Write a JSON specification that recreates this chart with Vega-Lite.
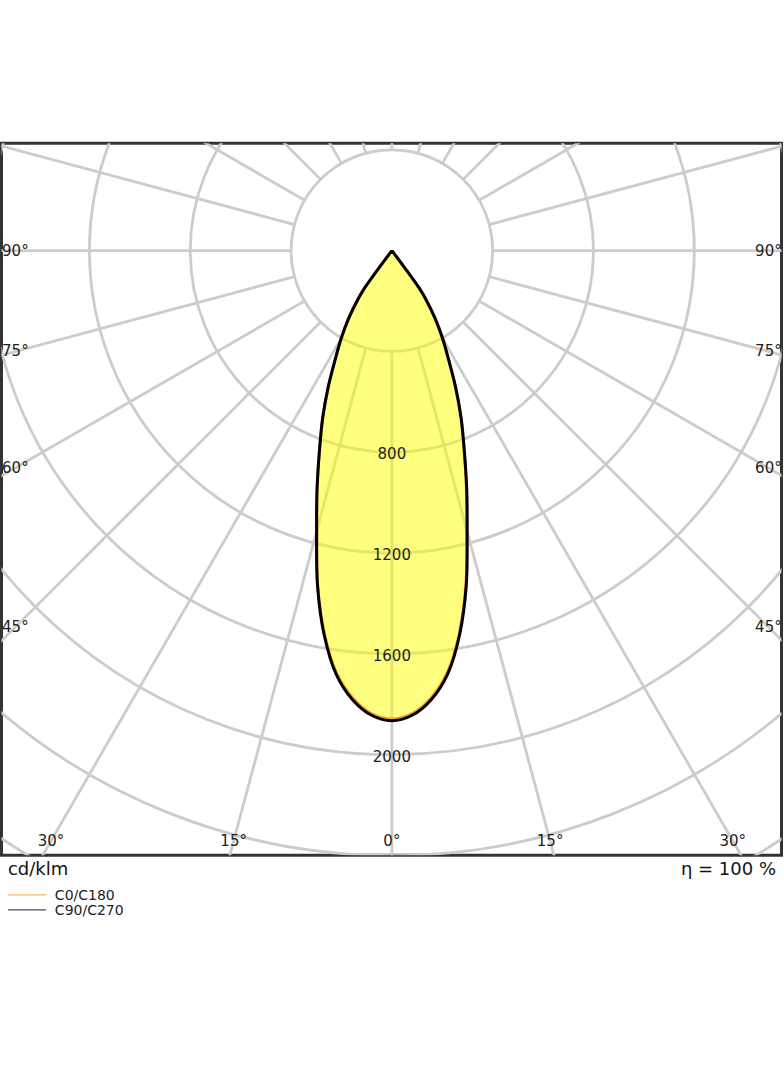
{
  "$schema": "https://vega.github.io/schema/vega-lite/v6.json",
  "width": 780,
  "height": 712,
  "autosize": {"type": "none"},
  "padding": {"left": 1.5, "top": 143.3, "right": 2.5, "bottom": 210.7},
  "background": "white",
  "config": {"view": {"stroke": "#333333", "strokeWidth": 3}, "font": "DejaVu Sans"},
  "datasets": {
    "circles": [{"r": 400}, {"r": 800}, {"r": 1200}, {"r": 1600}, {"r": 2000}, {"r": 2400}, {"r": 2800}],
    "rays": [{"angle": 0}, {"angle": 15}, {"angle": 30}, {"angle": 45}, {"angle": 60}, {"angle": 75}, {"angle": 90}, {"angle": 105}, {"angle": 120}, {"angle": 135}, {"angle": 150}, {"angle": 165}, {"angle": 180}, {"angle": 195}, {"angle": 210}, {"angle": 225}, {"angle": 240}, {"angle": 255}, {"angle": 270}, {"angle": 285}, {"angle": 300}, {"angle": 315}, {"angle": 330}, {"angle": 345}],
    "lobe": [
      {"c": "C0/C180", "a": -37.2, "I": 0}, {"c": "C0/C180", "a": -36.6, "I": 120}, {"c": "C0/C180", "a": -36, "I": 190}, {"c": "C0/C180", "a": -35, "I": 231}, {"c": "C0/C180", "a": -32.5, "I": 320}, {"c": "C0/C180", "a": -30, "I": 402}, {"c": "C0/C180", "a": -27.5, "I": 487}, {"c": "C0/C180", "a": -25, "I": 598}, {"c": "C0/C180", "a": -22.5, "I": 717}, {"c": "C0/C180", "a": -20, "I": 838}, {"c": "C0/C180", "a": -17.5, "I": 985}, {"c": "C0/C180", "a": -15, "I": 1151}, {"c": "C0/C180", "a": -12.5, "I": 1360}, {"c": "C0/C180", "a": -10, "I": 1543}, {"c": "C0/C180", "a": -7.5, "I": 1689}, {"c": "C0/C180", "a": -5, "I": 1782}, {"c": "C0/C180", "a": -2.5, "I": 1839}, {"c": "C0/C180", "a": 0, "I": 1859}, {"c": "C0/C180", "a": 2.5, "I": 1839}, {"c": "C0/C180", "a": 5, "I": 1782}, {"c": "C0/C180", "a": 7.5, "I": 1688}, {"c": "C0/C180", "a": 10, "I": 1541}, {"c": "C0/C180", "a": 12.5, "I": 1356}, {"c": "C0/C180", "a": 15, "I": 1148}, {"c": "C0/C180", "a": 17.5, "I": 982}, {"c": "C0/C180", "a": 20, "I": 837}, {"c": "C0/C180", "a": 22.5, "I": 717}, {"c": "C0/C180", "a": 25, "I": 598}, {"c": "C0/C180", "a": 27.5, "I": 487}, {"c": "C0/C180", "a": 30, "I": 402}, {"c": "C0/C180", "a": 32.5, "I": 320}, {"c": "C0/C180", "a": 35, "I": 231}, {"c": "C0/C180", "a": 36, "I": 190}, {"c": "C0/C180", "a": 36.6, "I": 120}, {"c": "C0/C180", "a": 37.2, "I": 0},
      {"c": "C90/C270", "a": -37.2, "I": 0}, {"c": "C90/C270", "a": -36.6, "I": 120}, {"c": "C90/C270", "a": -36, "I": 190}, {"c": "C90/C270", "a": -35, "I": 231}, {"c": "C90/C270", "a": -32.5, "I": 320}, {"c": "C90/C270", "a": -30, "I": 402}, {"c": "C90/C270", "a": -27.5, "I": 487}, {"c": "C90/C270", "a": -25, "I": 598}, {"c": "C90/C270", "a": -22.5, "I": 717}, {"c": "C90/C270", "a": -20, "I": 839}, {"c": "C90/C270", "a": -17.5, "I": 987}, {"c": "C90/C270", "a": -15, "I": 1154}, {"c": "C90/C270", "a": -12.5, "I": 1363}, {"c": "C90/C270", "a": -10, "I": 1548}, {"c": "C90/C270", "a": -7.5, "I": 1695}, {"c": "C90/C270", "a": -5, "I": 1789}, {"c": "C90/C270", "a": -2.5, "I": 1846}, {"c": "C90/C270", "a": 0, "I": 1866}, {"c": "C90/C270", "a": 2.5, "I": 1846}, {"c": "C90/C270", "a": 5, "I": 1789}, {"c": "C90/C270", "a": 7.5, "I": 1695}, {"c": "C90/C270", "a": 10, "I": 1548}, {"c": "C90/C270", "a": 12.5, "I": 1363}, {"c": "C90/C270", "a": 15, "I": 1154}, {"c": "C90/C270", "a": 17.5, "I": 987}, {"c": "C90/C270", "a": 20, "I": 839}, {"c": "C90/C270", "a": 22.5, "I": 717}, {"c": "C90/C270", "a": 25, "I": 598}, {"c": "C90/C270", "a": 27.5, "I": 487}, {"c": "C90/C270", "a": 30, "I": 402}, {"c": "C90/C270", "a": 32.5, "I": 320}, {"c": "C90/C270", "a": 35, "I": 231}, {"c": "C90/C270", "a": 36, "I": 190}, {"c": "C90/C270", "a": 36.6, "I": 120}, {"c": "C90/C270", "a": 37.2, "I": 0}
    ],
    "valueLabels": [{"value": 800}, {"value": 1200}, {"value": 1600}, {"value": 2000}],
    "angleLabels": [
      {"label": "90°", "angle": -90}, {"label": "75°", "angle": -75}, {"label": "60°", "angle": -60}, {"label": "45°", "angle": -45}, {"label": "30°", "angle": -30}, {"label": "15°", "angle": -15}, {"label": "0°", "angle": 0}, {"label": "15°", "angle": 15}, {"label": "30°", "angle": 30}, {"label": "45°", "angle": 45}, {"label": "60°", "angle": 60}, {"label": "75°", "angle": 75}, {"label": "90°", "angle": 90}
    ]
  },
  "layer": [
    {
      "data": {"name": "circles"},
      "mark": {"type": "point", "shape": "circle", "filled": false, "stroke": "#cccccc", "strokeWidth": 2.8, "opacity": 1, "clip": true},
      "encoding": {
        "x": {"datum": 0, "type": "quantitative", "scale": {"domain": [-1549, 1546], "nice": false, "zero": false}, "axis": null},
        "y": {"datum": 0, "type": "quantitative", "scale": {"domain": [-2400, 426], "nice": false, "zero": false}, "axis": null},
        "size": {"field": "r", "type": "quantitative", "scale": {"type": "pow", "exponent": 2, "domain": [0, 2800], "range": [0, 1991485.44]}, "legend": null}
      }
    },
    {
      "data": {"name": "rays"},
      "transform": [
        {"calculate": "400*sin(datum.angle*PI/180)", "as": "x"},
        {"calculate": "-400*cos(datum.angle*PI/180)", "as": "y"},
        {"calculate": "7000*sin(datum.angle*PI/180)", "as": "x2"},
        {"calculate": "-7000*cos(datum.angle*PI/180)", "as": "y2"}
      ],
      "mark": {"type": "rule", "stroke": "#cccccc", "strokeWidth": 2.8, "clip": true},
      "encoding": {
        "x": {"field": "x", "type": "quantitative", "scale": {"domain": [-1549, 1546], "nice": false, "zero": false}, "axis": null},
        "y": {"field": "y", "type": "quantitative", "scale": {"domain": [-2400, 426], "nice": false, "zero": false}, "axis": null},
        "x2": {"field": "x2"},
        "y2": {"field": "y2"}
      }
    },
    {
      "data": {"name": "lobe"},
      "transform": [
        {"filter": "datum.c === 'C90/C270'"},
        {"calculate": "datum.I*sin(datum.a*PI/180)", "as": "x"},
        {"calculate": "-datum.I*cos(datum.a*PI/180)", "as": "y"}
      ],
      "mark": {"type": "line", "fill": "#ffff00", "fillOpacity": 0.5, "strokeOpacity": 0, "interpolate": "catmull-rom", "clip": true},
      "encoding": {
        "x": {"field": "x", "type": "quantitative", "scale": {"domain": [-1549, 1546], "nice": false, "zero": false}, "axis": null},
        "y": {"field": "y", "type": "quantitative", "scale": {"domain": [-2400, 426], "nice": false, "zero": false}, "axis": null},
        "order": {"field": "a", "type": "quantitative"}
      }
    },
    {
      "data": {"name": "lobe"},
      "transform": [
        {"filter": "datum.c === 'C0/C180'"},
        {"calculate": "datum.I*sin(datum.a*PI/180)", "as": "x"},
        {"calculate": "-datum.I*cos(datum.a*PI/180)", "as": "y"}
      ],
      "mark": {"type": "line", "stroke": "#f59a28", "strokeWidth": 3, "interpolate": "catmull-rom", "clip": true},
      "encoding": {
        "x": {"field": "x", "type": "quantitative", "scale": {"domain": [-1549, 1546], "nice": false, "zero": false}, "axis": null},
        "y": {"field": "y", "type": "quantitative", "scale": {"domain": [-2400, 426], "nice": false, "zero": false}, "axis": null},
        "order": {"field": "a", "type": "quantitative"}
      }
    },
    {
      "data": {"name": "lobe"},
      "transform": [
        {"filter": "datum.c === 'C90/C270'"},
        {"calculate": "datum.I*sin(datum.a*PI/180)", "as": "x"},
        {"calculate": "-datum.I*cos(datum.a*PI/180)", "as": "y"}
      ],
      "mark": {"type": "line", "stroke": "#000000", "strokeWidth": 3, "interpolate": "catmull-rom", "clip": true},
      "encoding": {
        "x": {"field": "x", "type": "quantitative", "scale": {"domain": [-1549, 1546], "nice": false, "zero": false}, "axis": null},
        "y": {"field": "y", "type": "quantitative", "scale": {"domain": [-2400, 426], "nice": false, "zero": false}, "axis": null},
        "order": {"field": "a", "type": "quantitative"}
      }
    },
    {
      "data": {"name": "valueLabels"},
      "transform": [{"calculate": "-datum.value", "as": "y"}],
      "mark": {"type": "text", "fontSize": 15, "color": "#222222", "align": "center", "baseline": "middle", "dy": 2},
      "encoding": {
        "x": {"datum": 0, "type": "quantitative", "scale": {"domain": [-1549, 1546], "nice": false, "zero": false}, "axis": null},
        "y": {"field": "y", "type": "quantitative", "scale": {"domain": [-2400, 426], "nice": false, "zero": false}, "axis": null},
        "text": {"field": "value", "type": "nominal"}
      }
    },
    {
      "data": {"name": "angleLabels"},
      "transform": [
        {"calculate": "datum.angle*PI/180", "as": "rad"},
        {"calculate": "min(1494/abs(sin(datum.rad)), 2343/cos(datum.rad))", "as": "d"},
        {"calculate": "datum.d*sin(datum.rad)", "as": "x"},
        {"calculate": "-datum.d*cos(datum.rad)", "as": "y"}
      ],
      "mark": {"type": "text", "fontSize": 15, "color": "#222222", "align": "center", "baseline": "middle"},
      "encoding": {
        "x": {"field": "x", "type": "quantitative", "scale": {"domain": [-1549, 1546], "nice": false, "zero": false}, "axis": null},
        "y": {"field": "y", "type": "quantitative", "scale": {"domain": [-2400, 426], "nice": false, "zero": false}, "axis": null},
        "text": {"field": "label", "type": "nominal"}
      }
    },
    {
      "data": {"values": [{"t": "cd/klm"}]},
      "mark": {"type": "text", "fontSize": 18, "color": "#111111", "align": "left", "baseline": "alphabetic"},
      "encoding": {
        "x": {"datum": -1523.4, "type": "quantitative", "scale": {"domain": [-1549, 1546], "nice": false, "zero": false}, "axis": null},
        "y": {"datum": -2477.8, "type": "quantitative", "scale": {"domain": [-2400, 426], "nice": false, "zero": false}, "axis": null},
        "text": {"field": "t", "type": "nominal"}
      }
    },
    {
      "data": {"values": [{"t": "η = 100 %"}]},
      "mark": {"type": "text", "fontSize": 18, "color": "#111111", "align": "right", "baseline": "alphabetic"},
      "encoding": {
        "x": {"datum": 1524.2, "type": "quantitative", "scale": {"domain": [-1549, 1546], "nice": false, "zero": false}, "axis": null},
        "y": {"datum": -2477.8, "type": "quantitative", "scale": {"domain": [-2400, 426], "nice": false, "zero": false}, "axis": null},
        "text": {"field": "t", "type": "nominal"}
      }
    },
    {
      "data": {"values": [{"series": "C0/C180"}]},
      "mark": {"type": "rule", "stroke": "#f59a28", "strokeWidth": 1.2, "opacity": 0.7},
      "encoding": {
        "x": {"datum": -1523.4, "type": "quantitative", "scale": {"domain": [-1549, 1546], "nice": false, "zero": false}, "axis": null},
        "x2": {"datum": -1372.6},
        "y": {"datum": -2557.1, "type": "quantitative", "scale": {"domain": [-2400, 426], "nice": false, "zero": false}, "axis": null}
      }
    },
    {
      "data": {"values": [{"series": "C90/C270"}]},
      "mark": {"type": "rule", "stroke": "#000000", "strokeWidth": 1.2, "opacity": 0.7},
      "encoding": {
        "x": {"datum": -1523.4, "type": "quantitative", "scale": {"domain": [-1549, 1546], "nice": false, "zero": false}, "axis": null},
        "x2": {"datum": -1372.6},
        "y": {"datum": -2616.7, "type": "quantitative", "scale": {"domain": [-2400, 426], "nice": false, "zero": false}, "axis": null}
      }
    },
    {
      "data": {"values": [{"series": "C0/C180"}]},
      "mark": {"type": "text", "fontSize": 14, "color": "#222222", "align": "left", "baseline": "middle", "dy": 1},
      "encoding": {
        "x": {"datum": -1337.3, "type": "quantitative", "scale": {"domain": [-1549, 1546], "nice": false, "zero": false}, "axis": null},
        "y": {"datum": -2557.1, "type": "quantitative", "scale": {"domain": [-2400, 426], "nice": false, "zero": false}, "axis": null},
        "text": {"field": "series", "type": "nominal"}
      }
    },
    {
      "data": {"values": [{"series": "C90/C270"}]},
      "mark": {"type": "text", "fontSize": 14, "color": "#222222", "align": "left", "baseline": "middle", "dy": 1},
      "encoding": {
        "x": {"datum": -1337.3, "type": "quantitative", "scale": {"domain": [-1549, 1546], "nice": false, "zero": false}, "axis": null},
        "y": {"datum": -2616.7, "type": "quantitative", "scale": {"domain": [-2400, 426], "nice": false, "zero": false}, "axis": null},
        "text": {"field": "series", "type": "nominal"}
      }
    }
  ]
}
